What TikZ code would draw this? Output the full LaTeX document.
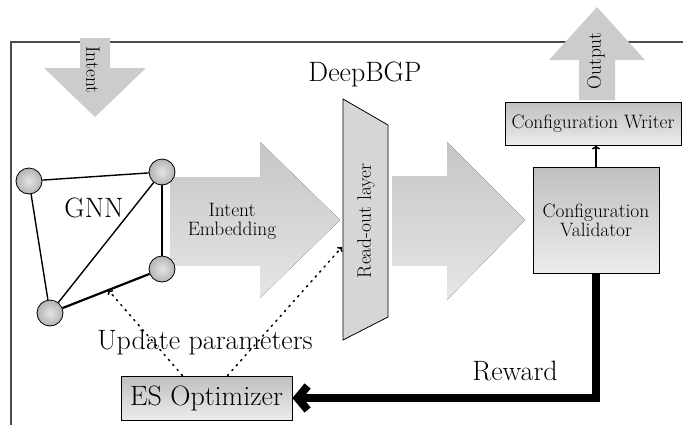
\documentclass[tikz,border=0pt]{standalone}
\usetikzlibrary{arrows.meta,calc}
\begin{document}
\begin{tikzpicture}[x=1pt,y=-1pt,
  bigfont/.style={font=\fontsize{28}{31}\selectfont},
  smallfont/.style={font=\fontsize{19.4}{21}\selectfont},
  gnode/.style={circle,draw,thick,minimum size=26pt,inner sep=0pt,inner color=gray!20,outer color=gray!60},
  gedge/.style={line width=1.4pt},
  fatarrow/.style={top color=gray!45,bottom color=gray!20,draw=none},
  flatarrow/.style={fill=gray!40,draw=none},
  box/.style={draw,line width=0.8pt,top color=gray!50,bottom color=gray!15,inner sep=2pt},
  update/.style={dash pattern=on 1.6pt off 5pt,line cap=round,line width=1.5pt,-{To[length=4pt,width=7pt]}},
  reward/.style={line width=8pt,-{Straight Barb[length=10pt,width=24pt]}}]
  \useasboundingbox (0,0) rectangle (683,424);
  \clip (0,0) rectangle (683,424);

  %frame
  \draw[gray!60!black,line width=1.2pt] (11,440) -- (11,42) -- (700,42);

  %intent input arrow
  \fill[flatarrow] (80,38) -- (110,38) -- (110,68) -- (146,68) -- (95,117) -- (44,68) -- (80,68) -- cycle;
  \node[smallfont,rotate=-90] (intent) at (93,70) {Intent};

  %output arrow
  \fill[flatarrow] (579,100) -- (615,100) -- (615,60) -- (645,60) -- (597,7) -- (549,60) -- (579,60) -- cycle;
  \node[smallfont,rotate=90] (output) at (596,61) {Output};

  %big arrows
  \fill[fatarrow] (170,177) -- (260,177) -- (260,142) -- (340,220) -- (260,298) -- (260,265) -- (170,265) -- cycle;
  \node[smallfont,align=center] (embed) at (232,221) {Intent\\[-2pt]Embedding};
  \fill[fatarrow] (392,176) -- (447,176) -- (447,142) -- (525,220) -- (447,300) -- (447,265) -- (392,265) -- cycle;

  %read-out layer
  \draw[fill=gray!32,line width=0.8pt] (343,99) -- (388,125) -- (388,317) -- (343,340) -- cycle;
  \node[smallfont,rotate=90] (readout) at (366,221) {Read-out layer};
  \coordinate (roin) at (342,247);
  \node[bigfont] (deepbgp) at (365,74) {DeepBGP};

  %GNN
  \node[gnode] (n1) at (29,181) {};
  \node[gnode] (n2) at (162,172) {};
  \node[gnode] (n3) at (162,269) {};
  \node[gnode] (n4) at (50,313) {};
  \draw[gedge] (n1) -- (n2);
  \draw[gedge] (n1) -- (n4);
  \draw[gedge] (n2) -- (n4);
  \draw[gedge] (n2) -- (n3);
  \draw[gedge,line width=2.2pt] (n4) -- (n3);
  \node[bigfont] (gnn) at (94,208) {GNN};

  %configuration boxes
  \node[box,smallfont,minimum width=176pt,minimum height=43pt] (writer) at (593,123.5) {Configuration Writer};
  \node[box,smallfont,align=center,minimum width=126pt,minimum height=106pt] (validator) at (596,220) {Configuration\\[-2pt]Validator};
  \draw[line width=1.6pt,-{To[length=4pt,width=8pt]}] (validator.north) -- (validator.north |- writer.south);

  %optimizer
  \node[box,bigfont,minimum width=171pt,minimum height=44pt,inner sep=1pt] (es) at (206.5,398) {ES Optimizer};
  \node[bigfont] (upd) at (205,343) {Update parameters};
  \draw[update] ($(es.north)+(-24,0)$) -- ($(n4)!0.52!(n3)$);
  \draw[update] ($(es.north)+(21,0)$) -- (roin);

  \draw[reward] (validator.south) |- (es.east);
  \node[bigfont] (rew) at (515,371) {Reward};

\end{tikzpicture}
\end{document}
